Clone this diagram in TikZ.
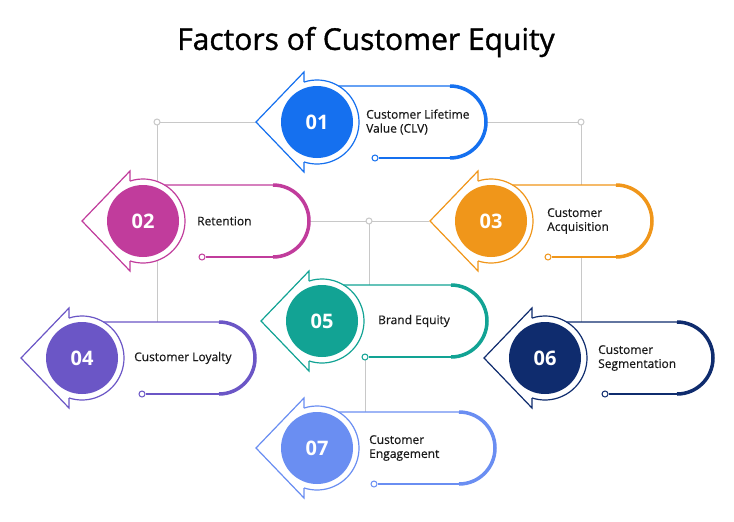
\documentclass[tikz,border=0pt]{standalone}
\usepackage{fontspec}
\setmainfont{Open Sans}
\newfontfamily\titlefont[FakeBold=1.2]{Open Sans}
\newfontfamily\labelfont[FakeBold=0.4]{Open Sans}
\definecolor{cA}{HTML}{1570EF}
\definecolor{cB}{HTML}{C13C9C}
\definecolor{cC}{HTML}{F0961A}
\definecolor{cD}{HTML}{6B56C6}
\definecolor{cE}{HTML}{12A394}
\definecolor{cF}{HTML}{0F2C6E}
\definecolor{cG}{HTML}{6A8EF2}
\definecolor{linegray}{HTML}{C8C8C8}
\definecolor{textdark}{HTML}{1A1A1A}
% #1 name, #2 cx, #3 cy, #4 cap centre offset, #5 colour, #6 small circle offset, #7 number, #8 text offset, #9 label
\newcommand\factormod[9]{%
\begin{scope}[shift={(#2,#3)}]
 \fill[white] (-13,-50) -- (-61,0) -- (-13,50) -- (-13,36) -- (#4,36) arc[start angle=90,end angle=-90,radius=36] -- (-13,-36) -- cycle;
 \fill[white] (0,0) circle[radius=42];
 \draw[#5, thinline, line join=miter] (-13,-40) -- (-13,-50) -- (-61,0) -- (-13,50) -- (-13,40);
 \draw[#5, thinline] (-108:42) arc[start angle=-108, end angle=108, radius=42];
 \draw[#5, thinline] (-59:42) -- (#4,-36);
 \draw[#5, line width=3.5pt] (#4,-36) arc[start angle=-90,end angle=90,radius=36];
 \node[junc, draw=#5] (#1s) at (#6,36) {};
 \draw[#5, thinline] (#1s) -- (#4,36);
 \node[numcirc, fill=#5] (#1) at (0,0) {#7};
 \node[lbl] (#1t) at (#8,0) {#9};
\end{scope}}
\begin{document}
\begin{tikzpicture}[x=1pt,y=-1pt,
 thinline/.style={line width=1.2pt},
 conn/.style={draw=linegray, line width=1pt},
 junc/.style={circle, draw=linegray, fill=white, line width=1pt, inner sep=0pt, minimum size=6pt},
 numcirc/.style={circle, minimum size=72pt, inner sep=0pt, text=white, font=\fontsize{20}{20}\selectfont\bfseries},
 lbl/.style={anchor=west, align=left, font=\labelfont\fontsize{12}{14}\selectfont, text=textdark, inner sep=0pt}]
\useasboundingbox (0,0) rectangle (734,522);
\fill[white] (0,0) rectangle (734,522);
\node[font=\titlefont\fontsize{30}{34}\selectfont, text=black] (title) at (366,42) {Factors of Customer Equity};
% connectors
\coordinate (jL) at (157,122);
\coordinate (jR) at (581,122);
\coordinate (jL2) at (157,323);
\coordinate (jR2) at (581,323);
\coordinate (h2) at (309,221);
\coordinate (h3) at (429,221);
\coordinate (jM) at (369,221);
\coordinate (jM5) at (369,285);
\coordinate (j5s) at (365,356);
\coordinate (j7) at (365,413);
\draw[conn] (jL) -- (jR);
\draw[conn] (jL) -- (jL2);
\draw[conn] (jR) -- (jR2);
\draw[conn] (h2) -- (h3);
\draw[conn] (jM) -- (jM5);
\draw[conn] (j5s) -- (j7);
% modules
\factormod{mA}{317}{122}{133}{cA}{58}{01}{49}{Customer Lifetime\\Value (CLV)}
\factormod{mB}{143}{221}{130}{cB}{59}{02}{54}{Retention}
\factormod{mC}{491}{221}{125}{cC}{57}{03}{56}{Customer\\Acquisition}
\factormod{mD}{82}{358}{137}{cD}{60}{04}{52}{Customer Loyalty}
\factormod{mE}{322}{321}{129}{cE}{43}{05}{56}{Brand Equity}
\factormod{mF}{545}{358}{132}{cF}{60}{06}{53}{Customer\\Segmentation}
\factormod{mG}{317}{448}{142}{cG}{57}{07}{52}{Customer\\Engagement}
% junctions
\node[junc] (jLn) at (jL) {};
\node[junc] (jRn) at (jR) {};
\node[junc] (jMn) at (jM) {};
\end{tikzpicture}
\end{document}
